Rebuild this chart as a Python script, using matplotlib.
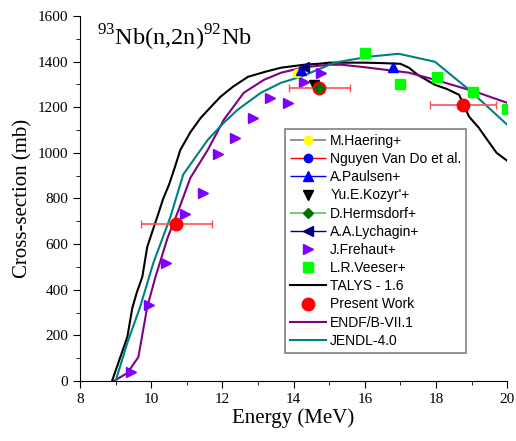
import numpy as np
import matplotlib
matplotlib.use("Agg")
import matplotlib.pyplot as plt
from matplotlib.ticker import MultipleLocator
from matplotlib.container import ErrorbarContainer
from matplotlib.legend_handler import HandlerErrorbar

plt.rcParams['font.family'] = 'Liberation Serif'
plt.rcParams['mathtext.fontset'] = 'custom'
plt.rcParams['mathtext.rm'] = 'Liberation Serif'

# ---- data ----
talys_e = [8.9, 9.1, 9.33, 9.47, 9.6, 9.75, 9.89, 10.0, 10.17, 10.34, 10.5, 10.65, 10.82, 11.1,
           11.39, 11.7, 11.95, 12.3, 12.72, 13.2, 13.65, 14.0, 14.3, 14.7, 15.0, 15.5, 16.0, 16.5,
           17.0, 17.24, 17.5, 17.97, 18.3, 18.65, 18.93, 19.2, 19.38, 19.7, 20.0]
talys_xs = [0, 90, 193, 320, 390, 456, 588, 640, 719, 800, 860, 930, 1013, 1090,
            1153, 1205, 1246, 1290, 1333, 1355, 1373, 1380, 1386, 1390, 1395, 1395, 1395, 1393,
            1390, 1373, 1340, 1298, 1280, 1254, 1158, 1110, 1070, 1000, 965]

endf_e = [8.95, 9.33, 9.64, 9.89, 10.12, 10.46, 10.77, 11.1, 11.59, 12.04, 12.6, 13.17, 13.65,
          14.3, 15.0, 15.35, 16.0, 17.24, 17.97, 19.1, 20.0]
endf_xs = [0, 35, 105, 325, 456, 627, 750, 890, 1013, 1145, 1263, 1320, 1351,
           1375, 1386, 1386, 1375, 1351, 1320, 1268, 1219]

jendl_e = [9.0, 9.33, 9.69, 10.06, 10.54, 10.9, 11.59, 12.04, 12.43, 13.08, 13.65, 14.2,
           15.15, 16.1, 16.95, 17.97, 18.93, 20.0]
jendl_xs = [0, 167, 325, 517, 719, 905, 1057, 1132, 1189, 1263, 1307, 1333,
            1395, 1421, 1434, 1399, 1276, 1123]

present_e = [10.7, 14.72, 18.76]
present_xs = [690, 1285, 1210]
present_de = [1.0, 0.86, 0.92]

frehaut_e = [9.44, 9.95, 10.43, 10.94, 11.45, 11.87, 12.35, 12.86, 13.34, 13.85, 14.3, 14.78]
frehaut_xs = [39, 333, 517, 732, 825, 996, 1066, 1153, 1241, 1219, 1311, 1351]

veeser_e = [16.0, 17.0, 18.03, 19.05, 19.98]
veeser_xs = [1438, 1302, 1333, 1268, 1193]

haering_e, haering_xs = [14.1], [1351]
nguyen_e, nguyen_xs = [14.72], [1285]
paulsen_e, paulsen_xs = [14.2, 16.8], [1362, 1377]
kozyr_e, kozyr_xs = [14.58], [1298]
hermsdorf_e, hermsdorf_xs = [14.7], [1285]
lychagin_e, lychagin_xs = [14.3], [1377]

fig = plt.figure(figsize=(5.16, 4.41), dpi=100)
ax = fig.add_axes([0.155, 0.136, 0.828, 0.828])

h = []
h.append(ax.errorbar(haering_e, haering_xs, xerr=0.08, fmt='o', color='yellow', ms=6, ecolor='gray',
                     elinewidth=1.2, label='M.Haering+', zorder=5))
h.append(ax.errorbar(nguyen_e, nguyen_xs, xerr=0.1, fmt='o', color='blue', ms=6, ecolor='red',
                     elinewidth=1, label='Nguyen Van Do et al.', zorder=3))
h.append(ax.errorbar(paulsen_e, paulsen_xs, xerr=0.05, fmt='^', color='blue', ms=7, ecolor='blue',
                     elinewidth=1, label='A.Paulsen+', zorder=5))
h += ax.plot(kozyr_e, kozyr_xs, 'v', color='black', ms=7, label="Yu.E.Kozyr'+", zorder=5)
h.append(ax.errorbar(hermsdorf_e, hermsdorf_xs, xerr=0.05, fmt='D', color='#007000', ms=5,
                     ecolor='#60c060', elinewidth=1.2, label='D.Hermsdorf+', zorder=7))
h.append(ax.errorbar(lychagin_e, lychagin_xs, xerr=0.05, fmt='<', color='#000080', ms=7, ecolor='#000080',
                     elinewidth=1, label='A.A.Lychagin+', zorder=5))
h += ax.plot(frehaut_e, frehaut_xs, '>', color='#8000ff', ms=7, label='J.Frehaut+', zorder=4)
h += ax.plot(veeser_e, veeser_xs, 's', color='#00ff00', ms=7, label='L.R.Veeser+', zorder=4)
h += ax.plot(talys_e, talys_xs, color='black', lw=1.5, label='TALYS - 1.6', zorder=2)
ax.errorbar(present_e, present_xs, xerr=present_de, fmt='none', ecolor='#ff5050',
            elinewidth=1.2, capsize=3, zorder=5)
h += ax.plot(present_e, present_xs, 'o', color='red', ms=9, label='Present Work', zorder=6)
h += ax.plot(endf_e, endf_xs, color='#800080', lw=1.5, label='ENDF/B-VII.1', zorder=2)
h += ax.plot(jendl_e, jendl_xs, color='#008080', lw=1.5, label='JENDL-4.0', zorder=2)

ax.set_xlim(8, 20)
ax.set_ylim(0, 1600)
ax.xaxis.set_major_locator(MultipleLocator(2))
ax.xaxis.set_minor_locator(MultipleLocator(1))
ax.yaxis.set_major_locator(MultipleLocator(200))
ax.yaxis.set_minor_locator(MultipleLocator(100))
ax.spines['top'].set_visible(False)
ax.spines['right'].set_visible(False)
ax.tick_params(which='major', direction='out', length=5, labelsize=11)
ax.tick_params(which='minor', direction='out', length=3)

ax.set_xlabel('Energy (MeV)', fontsize=15, labelpad=2)
ax.set_ylabel('Cross-section (mb)', fontsize=15, labelpad=4)

ax.text(0.04, 0.92, r'$^{93}\mathrm{Nb(n{,}2n)}^{92}\mathrm{Nb}$', transform=ax.transAxes,
        fontsize=17.5)

leg = ax.legend(h, [x.get_label() for x in h], loc='upper left', bbox_to_anchor=(0.48, 0.69),
                borderaxespad=0, prop={'family': 'Liberation Sans', 'size': 10}, fancybox=False,
                edgecolor='gray', framealpha=1, handlelength=2.6, handletextpad=0.3,
                labelspacing=0.3, borderpad=0.35, numpoints=1,
                handler_map={ErrorbarContainer: HandlerErrorbar(xerr_size=1.3)})
leg.get_frame().set_linewidth(1.2)

fig.savefig('out.png', dpi=100)
